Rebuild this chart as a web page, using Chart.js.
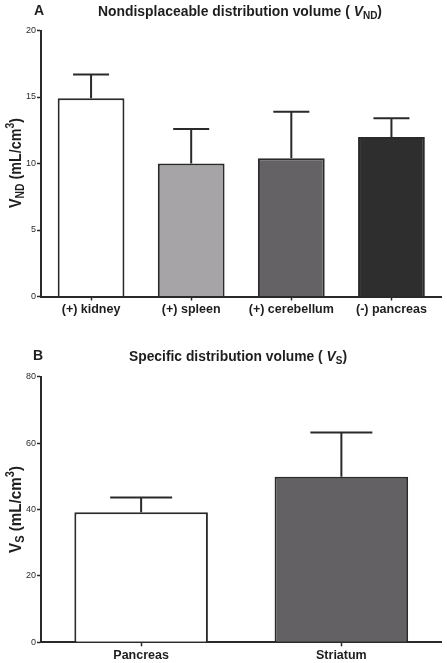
<!DOCTYPE html>
<html><head><meta charset="utf-8">
<script src="https://cdn.jsdelivr.net/npm/chart.js@4.4.1/dist/chart.umd.min.js"></script>
<style>
html,body{margin:0;padding:0;background:#fff;}
#wrap{position:relative;width:447px;height:663px;overflow:hidden;}
canvas{position:absolute;left:0;}
</style></head><body>
<div id="wrap">
<canvas id="cA" width="447" height="330" style="top:0"></canvas>
<canvas id="cB" width="447" height="333" style="top:330px"></canvas>
</div>
<script>
// ---- data ----
const categoriesA = ['(+) kidney', '(+) spleen', '(+) cerebellum', '(-) pancreas'];
const meanA = [14.9, 10.0, 10.4, 12.0];
const sdA = [1.8, 2.6, 3.5, 1.4];
const yTicksA = [0, 5, 10, 15, 20];

const categoriesB = ['Pancreas', 'Striatum'];
const meanB = [39.2, 49.9];
const sdB = [4.4, 13.3];
const yTicksB = [0, 20, 40, 60, 80];

// ---- styles ----
const colorsA = ['#ffffff', '#a6a4a7', '#646265', '#2e2e2f'];
const colorsB = ['#ffffff', '#636164'];
const FONT = "'Liberation Sans', Arial, Helvetica, sans-serif";
const INK = '#2a2a2a';

function drawRich(ctx, segs, cx, cy, size, targetW, rotate) {
  const fontOf = s => (s.italic ? 'italic ' : '') + 'bold ' + (size * (s.small ? 0.72 : 1)) + 'px ' + FONT;
  let total = 0;
  const widths = segs.map(s => { ctx.font = fontOf(s); const w = ctx.measureText(s.t).width; total += w; return w; });
  const sx = targetW ? targetW / total : 1;
  ctx.save();
  ctx.translate(cx, cy);
  if (rotate) ctx.rotate(-Math.PI / 2);
  ctx.scale(sx, 1);
  ctx.fillStyle = '#1e1e1e';
  ctx.textBaseline = 'alphabetic';
  ctx.textAlign = 'left';
  let x = -total / 2;
  const base = size * 0.36;
  segs.forEach((s, i) => {
    ctx.font = fontOf(s);
    let dy = 0;
    if (s.sub) dy = size * 0.22;
    if (s.sup) dy = -size * 0.4;
    ctx.fillText(s.t, x, base + dy);
    x += widths[i];
  });
  ctx.restore();
}

function makeChart(id, cats, means, sds, colors, yTicks, cfg) {
  const errPlugin = {
    id: 'err' + id,
    afterDatasetsDraw(chart) {
      const ctx = chart.ctx;
      const ys = chart.scales.y;
      const meta = chart.getDatasetMeta(0);
      ctx.save();
      ctx.strokeStyle = INK;
      ctx.lineWidth = 2;
      meta.data.forEach((el, i) => {
        const top = ys.getPixelForValue(means[i] + sds[i]);
        ctx.beginPath();
        ctx.moveTo(el.x, el.y);
        ctx.lineTo(el.x, top);
        ctx.moveTo(el.x - cfg.cap, top);
        ctx.lineTo(el.x + cfg.cap, top);
        ctx.stroke();
      });
      ctx.restore();
    },
    afterDraw(chart) {
      const ctx = chart.ctx;
      ctx.save();
      ctx.fillStyle = '#1e1e1e';
      ctx.font = 'bold 14px ' + FONT;
      ctx.textAlign = 'center';
      ctx.textBaseline = 'middle';
      ctx.fillText(cfg.letter, cfg.letterX, cfg.titleY);
      ctx.restore();
      drawRich(ctx, cfg.title, cfg.titleX, cfg.titleY, 14, cfg.titleW, false);
      drawRich(ctx, cfg.ylabel, 14.5, cfg.ylabelY, 17, cfg.ylabelW, true);
    }
  };
  return new Chart(document.getElementById(id), {
    type: 'bar',
    data: {
      labels: cats,
      datasets: [{
        data: means,
        backgroundColor: colors,
        borderColor: INK,
        borderWidth: 2,
        borderSkipped: 'start',
        barPercentage: 0.667,
        categoryPercentage: 1
      }]
    },
    options: {
      responsive: false,
      animation: false,
      devicePixelRatio: 1,
      layout: { padding: { left: 0, right: 5.5, top: cfg.padTop, bottom: cfg.padBottom } },
      plugins: { legend: { display: false }, tooltip: { enabled: false }, title: { display: false } },
      scales: {
        x: {
          offset: true,
          grid: { offset: false, drawOnChartArea: false, drawTicks: true, tickLength: 4, color: INK, tickColor: INK, tickWidth: 1.5 },
          border: { display: true, color: INK, width: 2 },
          ticks: { font: { family: FONT, size: 12.5, weight: 'bold' }, color: '#1e1e1e', padding: 2, maxRotation: 0, autoSkip: false },
          afterFit: s => { s.height = cfg.xHeight; }
        },
        y: {
          min: yTicks[0],
          max: yTicks[yTicks.length - 1],
          afterBuildTicks: s => { s.ticks = yTicks.map(v => ({ value: v })); },
          grid: { drawOnChartArea: false, drawTicks: true, tickLength: 4, color: INK, tickColor: INK, tickWidth: 1.5 },
          border: { display: true, color: INK, width: 2 },
          ticks: { font: { family: FONT, size: 9 }, color: '#2a2a2a', padding: 1 },
          afterFit: s => { s.width = 41; }
        }
      }
    },
    plugins: [errPlugin]
  });
}

makeChart('cA', categoriesA, meanA, sdA, colorsA, yTicksA, {
  cap: 18, padTop: 30.5, padBottom: 5.5, xHeight: 28,
  letter: 'A', letterX: 39, titleX: 240, titleY: 11, titleW: 284,
  title: [{ t: 'Nondisplaceable distribution volume ( ' }, { t: 'V', italic: true }, { t: 'ND', small: true, sub: true }, { t: ')' }],
  ylabel: [{ t: 'V' }, { t: 'ND', small: true, sub: true }, { t: ' (mL/cm' }, { t: '3', small: true, sup: true }, { t: ')' }],
  ylabelY: 163, ylabelW: 90
});

makeChart('cB', categoriesB, meanB, sdB, colorsB, yTicksB, {
  cap: 31, padTop: 46.7, padBottom: 2.7, xHeight: 18,
  letter: 'B', letterX: 38, titleX: 238, titleY: 25.7, titleW: 218,
  title: [{ t: 'Specific distribution volume ( ' }, { t: 'V', italic: true }, { t: 'S', small: true, sub: true }, { t: ')' }],
  ylabel: [{ t: 'V' }, { t: 'S', small: true, sub: true }, { t: ' (mL/cm' }, { t: '3', small: true, sup: true }, { t: ')' }],
  ylabelY: 179.5, ylabelW: 87
});
</script>
</body></html>
